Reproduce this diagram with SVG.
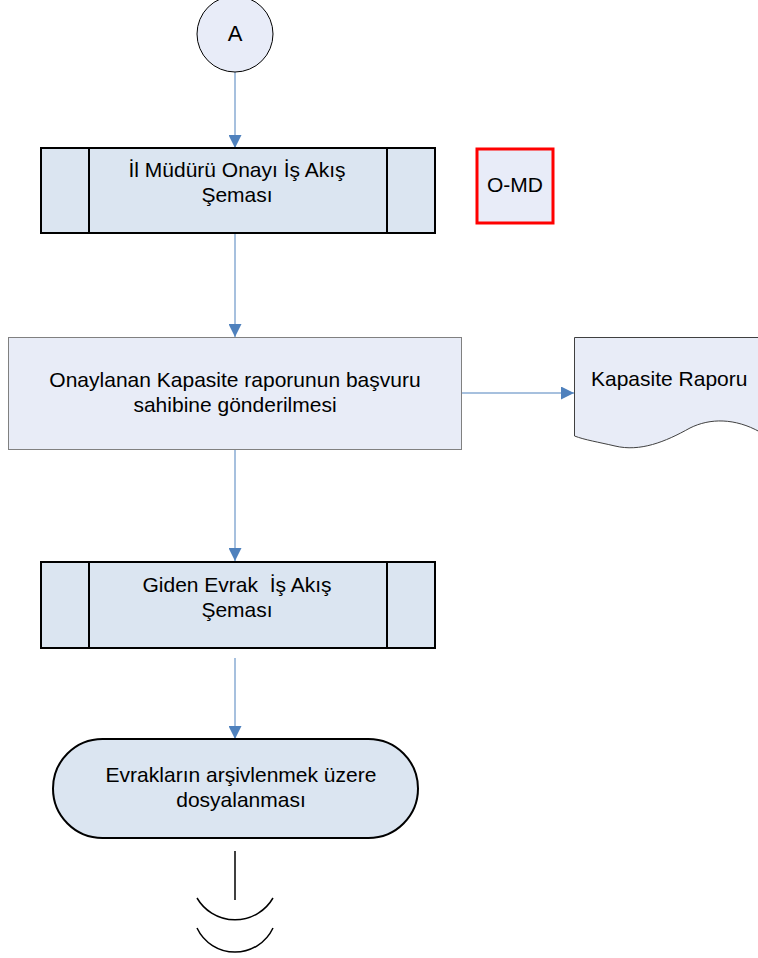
<svg xmlns="http://www.w3.org/2000/svg" width="758" height="958" viewBox="0 0 758 958">
<defs>
<style>
text{font-family:"Liberation Sans",Arial,sans-serif;font-size:21px;fill:#000;text-anchor:middle;white-space:pre}
.conn{stroke:#4f81bd;stroke-width:1;fill:none}
.sub{fill:#dbe5f1;stroke:#000;stroke-width:2}
.blk{fill:none;stroke:#000;stroke-width:1.5}
</style>
<marker id="ar" viewBox="0 0 10 10" refX="10" refY="5" markerWidth="13" markerHeight="13" markerUnits="userSpaceOnUse" orient="auto">
<path d="M0,0 L10,5 L0,10 z" fill="#4f81bd"/>
</marker>
</defs>
<rect width="758" height="958" fill="#fff"/>
<g id="connectors">
<line class="conn" x1="235" y1="72" x2="235" y2="148" marker-end="url(#ar)"/>
<line class="conn" x1="235" y1="234" x2="235" y2="337" marker-end="url(#ar)"/>
<line class="conn" x1="462" y1="393" x2="574" y2="393" marker-end="url(#ar)"/>
<line class="conn" x1="235" y1="448" x2="235" y2="561" marker-end="url(#ar)"/>
<line class="conn" x1="235" y1="658" x2="235" y2="739" marker-end="url(#ar)"/>
</g>
<g id="nodeA">
<circle cx="235" cy="34" r="38" fill="#e8ecf8" stroke="#000" stroke-width="1"/>
<text x="235" y="41" style="font-size:22px">A</text>
</g>
<g id="node1">
<rect class="sub" x="41" y="148" width="394" height="85"/>
<line x1="89" y1="148" x2="89" y2="233" stroke="#000" stroke-width="2"/>
<line x1="387" y1="148" x2="387" y2="233" stroke="#000" stroke-width="2"/>
<text x="237" y="177">İl Müdürü Onayı İş Akış</text>
<text x="237" y="202">Şeması</text>
</g>
<g id="omd">
<rect x="477" y="149" width="76" height="74" fill="#e8ecf8" stroke="#ff0000" stroke-width="3"/>
<text x="515" y="192">O-MD</text>
</g>
<g id="node2">
<rect x="8.5" y="337.5" width="453" height="112" fill="#e8ecf7" stroke="#808080" stroke-width="1"/>
<text x="235" y="387">Onaylanan Kapasite raporunun başvuru</text>
<text x="235" y="412">sahibine gönderilmesi</text>
</g>
<g id="doc">
<path d="M574.5,337.5 L760,337.5 L760,432 C735,418 710,418 690,428 C665,442 640,452 615,446 C598,442 585,440 574.5,436 Z" fill="#e8ecf7" stroke="#404040" stroke-width="1"/>
<text x="591" y="386" style="text-anchor:start">Kapasite Raporu</text>
</g>
<g id="node3">
<rect class="sub" x="41" y="562" width="394" height="86"/>
<line x1="89" y1="562" x2="89" y2="648" stroke="#000" stroke-width="2"/>
<line x1="387" y1="562" x2="387" y2="648" stroke="#000" stroke-width="2"/>
<text x="237" y="592" xml:space="preserve">Giden Evrak  İş Akış</text>
<text x="237" y="617">Şeması</text>
</g>
<g id="node4">
<rect x="53" y="739" width="365" height="99" rx="49.5" ry="49.5" fill="#dbe5f1" stroke="#000" stroke-width="2"/>
<text x="241" y="782">Evrakların arşivlenmek üzere</text>
<text x="241" y="807">dosyalanması</text>
</g>
<g id="end">
<line class="blk" x1="235" y1="851" x2="235" y2="900"/>
<path class="blk" d="M197,898 A44,44 0 0 0 273,898"/>
<path class="blk" d="M197,928 A42,42 0 0 0 273,928"/>
</g>
</svg>
